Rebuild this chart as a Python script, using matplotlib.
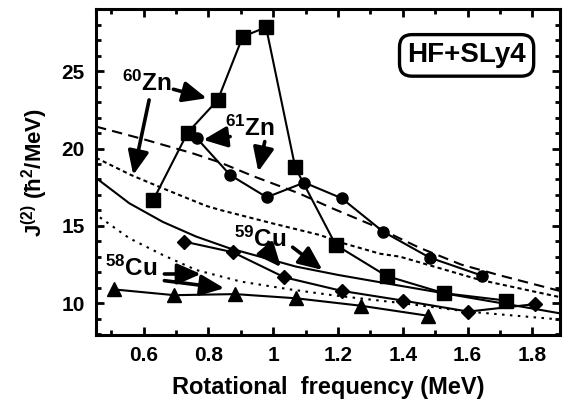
import numpy as np
import matplotlib
matplotlib.use('Agg')
import matplotlib.pyplot as plt
from matplotlib.ticker import MultipleLocator, FixedLocator

plt.rcParams['font.family'] = ['Liberation Sans', 'DejaVu Sans']
plt.rcParams['font.weight'] = 'bold'
plt.rcParams['mathtext.fontset'] = 'custom'
plt.rcParams['mathtext.rm'] = 'Liberation Sans:bold'
plt.rcParams['mathtext.bf'] = 'Liberation Sans:bold'
plt.rcParams['mathtext.it'] = 'Liberation Sans:bold:italic'
plt.rcParams['mathtext.default'] = 'bf'

# experimental J(2) values
zn60_x = [0.63, 0.736, 0.829, 0.906, 0.978, 1.068, 1.193, 1.35, 1.527, 1.72]
zn60_y = [16.68, 21.03, 23.14, 27.23, 27.84, 18.78, 13.77, 11.76, 10.65, 10.17]

zn61_x = [0.764, 0.867, 0.98, 1.096, 1.211, 1.339, 1.483, 1.645]
zn61_y = [20.67, 18.29, 16.85, 17.8, 16.79, 14.63, 12.95, 11.78]

cu59_x = [0.726, 0.875, 1.034, 1.211, 1.401, 1.602, 1.807]
cu59_y = [13.98, 13.3, 11.68, 10.8, 10.17, 9.46, 9.94]

cu58_x = [0.51, 0.695, 0.883, 1.07, 1.27, 1.478]
cu58_y = [10.89, 10.52, 10.59, 10.32, 9.84, 9.19]

# HF+SLy4 calculations
th61_x = [0.453, 0.6, 0.75, 0.836, 0.94, 1.08, 1.175, 1.3, 1.45, 1.58, 1.7, 1.884]
th61_y = [21.42, 20.6, 19.7, 19.1, 18.2, 17.1, 16.2, 15.1, 13.6, 12.5, 11.8, 10.8]

th60_x = [0.453, 0.561, 0.659, 0.792, 0.836, 1.0, 1.144, 1.216, 1.33, 1.391, 1.638, 1.884]
th60_y = [19.4, 18.29, 17.43, 16.3, 16.03, 15.15, 14.41, 13.88, 13.2, 13.01, 11.51, 10.4]

th59_x = [0.453, 0.556, 0.659, 0.762, 0.864, 1.07, 1.2, 1.4, 1.6, 1.8, 1.884]
th59_y = [18.1, 16.46, 15.26, 14.31, 13.56, 12.37, 11.83, 11.1, 10.38, 9.66, 9.35]

th58_x = [0.465, 0.556, 0.659, 0.762, 0.9, 1.05, 1.19, 1.4, 1.6, 1.884]
th58_y = [15.55, 14.2, 13.12, 12.15, 11.4, 10.9, 10.5, 10.0, 9.46, 8.95]

xticks = [0.6, 0.8, 1.0, 1.2, 1.4, 1.6, 1.8]
xticklabels = ['0.6', '0.8', '1', '1.2', '1.4', '1.6', '1.8']
yticks = [10, 15, 20, 25]

fig = plt.figure(figsize=(5.69, 4.13), dpi=100)
ax = fig.add_axes([0.1687, 0.189, 0.8153, 0.7885])

lw = 1.5
ax.plot(th61_x, th61_y, color='k', lw=lw, dashes=(5, 3))
ax.plot(th60_x, th60_y, color='k', lw=lw, dashes=(2, 1.6))
ax.plot(th59_x, th59_y, color='k', lw=lw)
ax.plot(th58_x, th58_y, color='k', lw=lw, dashes=(1.2, 2.6))

ax.plot(zn60_x, zn60_y, 'k-s', lw=lw, ms=10)
ax.plot(zn61_x, zn61_y, 'k-o', lw=lw, ms=8)
ax.plot(cu59_x, cu59_y, 'k-D', lw=lw, ms=7.5)
ax.plot(cu58_x, cu58_y, 'k-^', lw=lw, ms=10)

ax.set_xlim(0.453, 1.885)
ax.set_ylim(7.95, 29.0)
ax.xaxis.set_major_locator(FixedLocator(xticks))
ax.set_xticklabels(xticklabels)
ax.xaxis.set_minor_locator(MultipleLocator(0.1))
ax.yaxis.set_major_locator(FixedLocator(yticks))
ax.yaxis.set_minor_locator(MultipleLocator(1))
ax.tick_params(which='both', direction='in', top=True, right=True, width=2, labelsize=15)
ax.tick_params(which='major', length=6, pad=8)
ax.tick_params(which='minor', length=3.5)
for s in ax.spines.values():
    s.set_linewidth(2.2)

ax.set_xlabel('Rotational  frequency (MeV)', fontsize=17, fontweight='bold', labelpad=8)
ax.set_ylabel(r'J$^{(2)}$ ($\hbar^2$/MeV)', fontsize=16, fontweight='bold', labelpad=8)

ax.text(1.597, 26.02, 'HF+SLy4', fontsize=20, fontweight='bold', ha='center', va='center',
        bbox=dict(boxstyle='round,pad=0.28,rounding_size=0.45', fc='white', ec='k', lw=2.4))

aprops = dict(arrowstyle='-|>,head_length=0.8,head_width=0.35', lw=2.6, color='k',
              shrinkA=0, shrinkB=0, mutation_scale=18)

ax.text(0.61, 24.24, r'$^{60}$Zn', fontsize=17.5, fontweight='bold', ha='center', va='center')
ax.annotate('', xy=(0.795, 23.25), xytext=(0.692, 23.83), arrowprops=aprops)
ax.annotate('', xy=(0.568, 18.29), xytext=(0.617, 23.14), arrowprops=aprops)

ax.text(0.928, 21.33, r'$^{61}$Zn', fontsize=17.5, fontweight='bold', ha='center', va='center')
ax.annotate('', xy=(0.784, 20.56), xytext=(0.867, 20.77), arrowprops=aprops)
ax.annotate('', xy=(0.954, 18.51), xytext=(0.974, 20.45), arrowprops=aprops)

ax.text(0.959, 14.16, r'$^{59}$Cu', fontsize=17.5, fontweight='bold', ha='center', va='center')
ax.annotate('', xy=(1.024, 12.33), xytext=(0.983, 13.34), arrowprops=aprops)
ax.annotate('', xy=(1.152, 12.15), xytext=(1.06, 13.62), arrowprops=aprops)

ax.text(0.561, 12.28, r'$^{58}$Cu', fontsize=17.5, fontweight='bold', ha='center', va='center')
ax.annotate('', xy=(0.777, 11.89), xytext=(0.664, 11.89), arrowprops=aprops)
ax.annotate('', xy=(0.849, 10.97), xytext=(0.664, 11.46), arrowprops=aprops)

fig.savefig('out.png', dpi=100)
